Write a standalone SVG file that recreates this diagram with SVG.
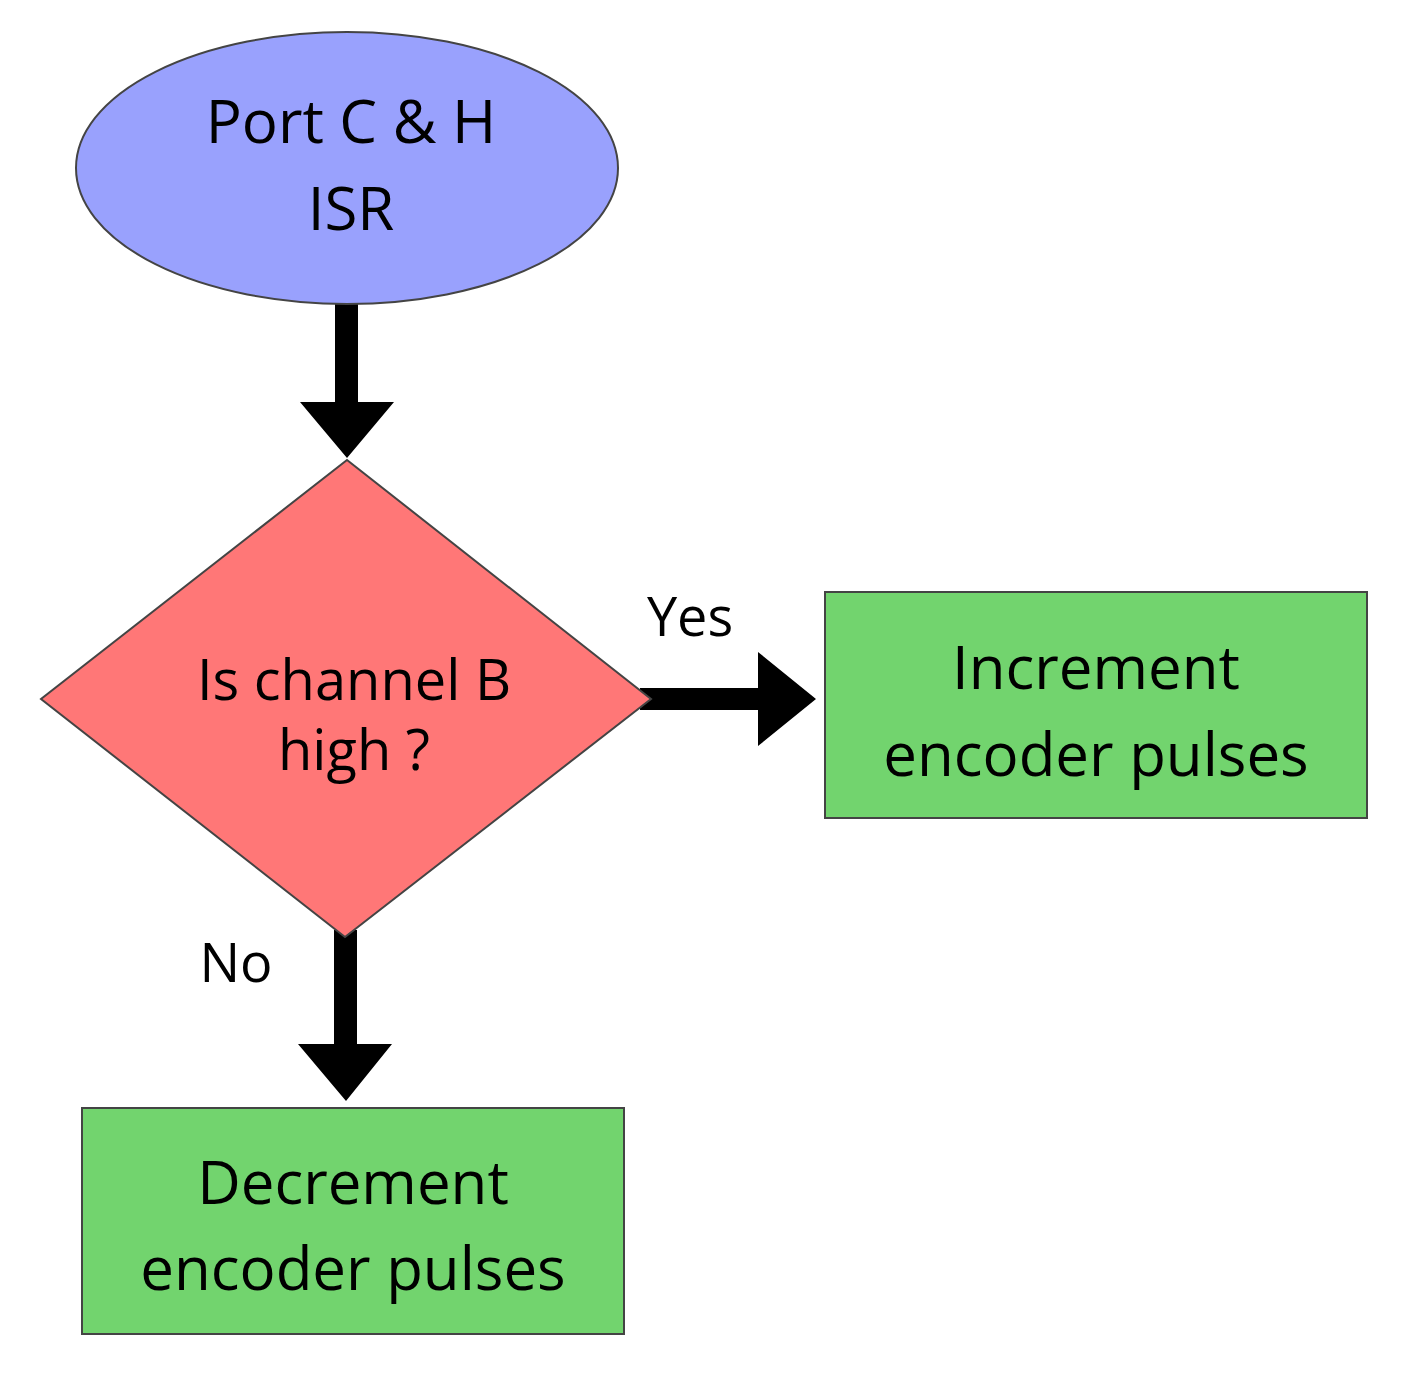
<svg xmlns="http://www.w3.org/2000/svg" width="1415" height="1393" viewBox="0 0 1415 1393">
<style>
text{font-family:"Open Sans","Noto Sans","DejaVu Sans",sans-serif;fill:#000;text-anchor:middle}
.shape{stroke:#444;stroke-width:2}
.arrow{fill:#000}
</style>
<rect width="1415" height="1393" fill="#fff"/>
<g id="connectors">
<path class="arrow" d="M335,304 H358 V402 H394 L347,458 L300,402 H335 Z"/>
<path class="arrow" d="M640,688 H758 V652 L816,699 L758,746 V710 H640 Z"/>
<path class="arrow" d="M334,930 H357 V1044 H392 L346,1101 L298,1044 H334 Z"/>
<text x="690" y="636" font-size="54">Yes</text>
<text x="236" y="982" font-size="54">No</text>
</g>
<g id="start">
<ellipse class="shape" cx="347" cy="168" rx="271" ry="136" fill="#99a1fd"/>
<text x="351" y="143" font-size="60">Port C &amp; H</text>
<text x="351" y="230" font-size="60">ISR</text>
</g>
<g id="decision">
<polygon class="shape" points="347,460 651,699 345,937 41,699" fill="#ff7777"/>
<text x="354" y="700" font-size="56">Is channel B</text>
<text x="354" y="770" font-size="56">high ?</text>
</g>
<g id="increment">
<rect class="shape" x="825" y="592" width="542" height="226" fill="#72d46e"/>
<text x="1096" y="689" font-size="60">Increment</text>
<text x="1096" y="776" font-size="60">encoder pulses</text>
</g>
<g id="decrement">
<rect class="shape" x="82" y="1108" width="542" height="226" fill="#72d46e"/>
<text x="353" y="1204" font-size="60">Decrement</text>
<text x="353" y="1290" font-size="60">encoder pulses</text>
</g>
</svg>
